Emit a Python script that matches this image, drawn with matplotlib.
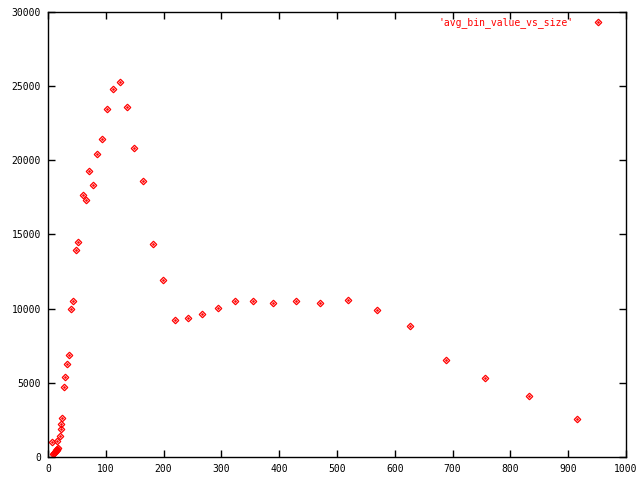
import matplotlib
matplotlib.use('Agg')
import matplotlib.pyplot as plt

# bin size vs average bin value
size = [7, 9, 10, 11, 12, 13, 14, 15, 16, 17, 16, 20, 22, 23, 25,
        28, 30, 33, 37, 40, 43, 48, 52, 61, 66, 71, 78, 85, 93,
        102, 112, 125, 137, 149, 164, 182, 199, 220, 242, 266, 294,
        323, 355, 389, 429, 471, 519, 569, 626, 689, 756, 832, 915]
value = [990, 200, 250, 300, 350, 400, 450, 500, 550, 600, 1050, 1420, 1870, 2200, 2600,
         4700, 5370, 6250, 6850, 9980, 10520, 13960, 14500, 17660, 17330, 19280, 18340, 20430, 21440,
         23460, 24810, 25280, 23600, 20830, 18600, 14360, 11930, 9240, 9370, 9640, 10045,
         10520, 10520, 10380, 10520, 10380, 10585, 9910, 8830, 6540, 5330, 4110, 2560]

label = "'avg_bin_value_vs_size'"

plt.rcParams['font.family'] = ['DejaVu Sans Mono']
plt.rcParams['font.size'] = 7

fig = plt.figure(figsize=(6.4, 4.8), dpi=100)
ax = fig.add_axes([48/640, 23/480, 578/640, 445/480])

mk = dict(linestyle='none', marker='D', markersize=3.3, markerfacecolor='none',
          markeredgecolor='red', markeredgewidth=0.9)
dot = dict(linestyle='none', marker='s', markersize=0.8, color='red')

ax.plot(size, value, **mk)
ax.plot(size, value, **dot)

ax.set_xlim(0, 1000)
ax.set_ylim(0, 30000)
ax.set_xticks(range(0, 1001, 100))
ax.set_yticks(range(0, 30001, 5000))
ax.tick_params(direction='in', top=True, right=True, length=5, width=1, pad=5)
for s in ax.spines.values():
    s.set_linewidth(1)

# gnuplot-like key in the top right corner
ax.text(0.91, 0.977, label, color='red', ha='right', va='center',
        transform=ax.transAxes)
ax.plot([0.952], [0.977], transform=ax.transAxes, clip_on=False, **mk)
ax.plot([0.952], [0.977], transform=ax.transAxes, clip_on=False, **dot)

fig.savefig('out.png', dpi=100)
